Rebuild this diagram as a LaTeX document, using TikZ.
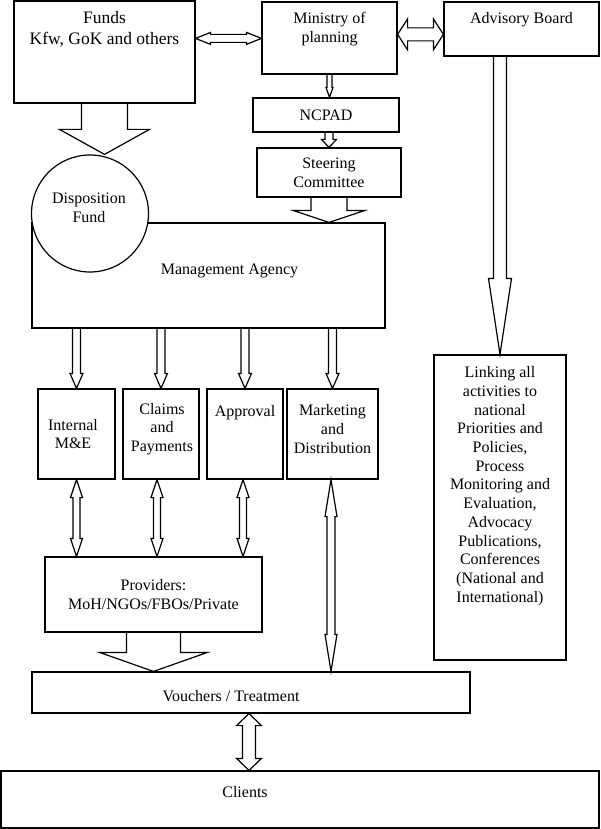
\documentclass[tikz,border=0pt]{standalone}
\usepackage{fontspec}
\setmainfont{Liberation Serif}
\usetikzlibrary{calc,positioning}
\tikzset{
  box/.style={draw, line width=1.2pt, inner sep=0pt, align=center, font=\fontsize{16}{18.7}\selectfont},
  txt/.style={inner sep=0pt, align=center, font=\fontsize{16}{18.7}\selectfont},
  blk/.style={draw, line width=1.2pt, line join=miter},
}
% block arrow pointing down: start, tip, shaft half width, head half width, head length
\newcommand{\blockdown}[5]{%
  \path[blk] let \p1=(#1), \p2=(#2) in
    (\x2-#3pt,\y1) -- (\x2-#3pt,\y2+#5pt) -- (\x2-#4pt,\y2+#5pt) -- (\x2,\y2)
    -- (\x2+#4pt,\y2+#5pt) -- (\x2+#3pt,\y2+#5pt) -- (\x2+#3pt,\y1);}
% vertical block arrow with two heads: top tip, bottom tip, ...
\newcommand{\blockboth}[5]{%
  \path[blk] let \p1=(#1), \p2=(#2) in
    (\x1,\y1) -- (\x1+#4pt,\y1-#5pt) -- (\x1+#3pt,\y1-#5pt) -- (\x1+#3pt,\y2+#5pt)
    -- (\x1+#4pt,\y2+#5pt) -- (\x1,\y2) -- (\x1-#4pt,\y2+#5pt) -- (\x1-#3pt,\y2+#5pt)
    -- (\x1-#3pt,\y1-#5pt) -- (\x1-#4pt,\y1-#5pt) -- cycle;}
% horizontal block arrow with two heads: left tip, right tip, ...
\newcommand{\blockside}[5]{%
  \path[blk] let \p1=(#1), \p2=(#2) in
    (\x1,\y1) -- (\x1+#5pt,\y1+#4pt) -- (\x1+#5pt,\y1+#3pt) -- (\x2-#5pt,\y1+#3pt)
    -- (\x2-#5pt,\y1+#4pt) -- (\x2,\y1) -- (\x2-#5pt,\y1-#4pt) -- (\x2-#5pt,\y1-#3pt)
    -- (\x1+#5pt,\y1-#3pt) -- (\x1+#5pt,\y1-#4pt) -- cycle;}
\begin{document}
\begin{tikzpicture}[x=1pt,y=-1pt]
\useasboundingbox (0,0) rectangle (600,829);
% top row
\node[box, minimum width=181, minimum height=102] (funds) at (104.5,52) {};
\node[txt, font=\fontsize{17.5}{21}\selectfont, below=11pt of funds.north] (fundstxt) {Funds\\Kfw, GoK and others};
\node[box, minimum width=135, minimum height=72] (min) at (329.5,38) {};
\node[txt, below=11pt of min.north] (mintxt) {Ministry of\\planning};
\node[box, minimum width=155, minimum height=54] (adv) at (521.5,29) {};
\node[txt, below=11pt of adv.north] (advtxt) {Advisory Board};
\node[box, minimum width=146, minimum height=34] (ncpad) at (326,115) {NCPAD};
\node[box, minimum width=144, minimum height=49] (steer) at (329,172.5) {Steering\\Committee};
% management
\node[box, minimum width=353, minimum height=105] (mgmt) at (208.5,275.5) {};
\node[txt] (mgmttxt) at (229.5,271) {Management Agency};
\node[box, circle, fill=white, minimum size=117] (disp) at (90,213.5) {};
\node[txt] (disptxt) at (89,208) {Disposition\\Fund};
% units
\node[box, minimum width=77, minimum height=90] (mande) at (76.5,434) {};
\node[txt] (mandetxt) at (73,434) {Internal\\M\&E};
\node[box, minimum width=76, minimum height=90] (claims) at (161,434) {};
\node[txt] (claimstxt) at (162,429) {Claims\\and\\Payments};
\node[box, minimum width=76, minimum height=90] (appr) at (245,434) {};
\node[txt, below=17pt of appr.north] (apprtxt) {Approval};
\node[box, minimum width=91, minimum height=90] (mkt) at (332.5,434) {};
\node[txt] (mkttxt) at (332.5,429) {Marketing\\and\\Distribution};
\node[box, minimum width=132, minimum height=305] (link) at (500,507.5) {};
\node[txt, below=12pt of link.north] (linktxt) {Linking all\\activities to\\national\\Priorities and\\Policies,\\Process\\Monitoring and\\Evaluation,\\Advocacy\\Publications,\\Conferences\\(National and\\International)};
% bottom
\node[box, minimum width=217, minimum height=75] (prov) at (153.5,594.5) {Providers:\\MoH/NGOs/FBOs/Private};
\node[box, minimum width=438, minimum height=41] (vouch) at (251,692.5) {};
\node[txt] (vouchtxt) at (231,696) {Vouchers / Treatment};
\node[box, minimum width=598, minimum height=57] (clients) at (300,799.5) {};
\node[txt] (clientstxt) at (245,792) {Clients};
% arrows
\blockside{[yshift=-38pt]funds.north east}{min.west}{4}{6}{15};
\blockside{[yshift=-33pt]min.north east}{adv.west}{6.5}{15.5}{10};
\blockdown{funds.south}{funds.south |- disp.north}{23}{45}{25};
\blockdown{min.south}{min.south |- ncpad.north}{2.5}{3.5}{10};
\blockdown{steer.north |- ncpad.south}{steer.north}{4}{7.5}{8};
\blockdown{steer.south}{steer.south |- mgmt.north}{18}{36}{12};
\blockdown{link.north |- adv.south}{link.north}{6.5}{11.5}{76};
\foreach \b in {mande,claims,appr,mkt}
  \blockdown{mgmt.south -| \b}{\b.north}{4}{6.5}{15};
\blockboth{mande.south}{prov.north}{3.5}{6}{18};
\blockboth{[xshift=-4pt]claims.south}{prov.north}{3.5}{6}{18};
\blockboth{[xshift=-2pt]appr.south}{prov.north}{3.5}{6}{18};
\blockboth{[xshift=-1.5pt]mkt.south}{vouch.north}{4}{6}{37};
\blockdown{prov.south}{prov.south |- vouch.north}{27}{54}{19};
\blockboth{[xshift=-2pt]vouch.south}{clients.north}{6.5}{12.5}{12};
\end{tikzpicture}
\end{document}
